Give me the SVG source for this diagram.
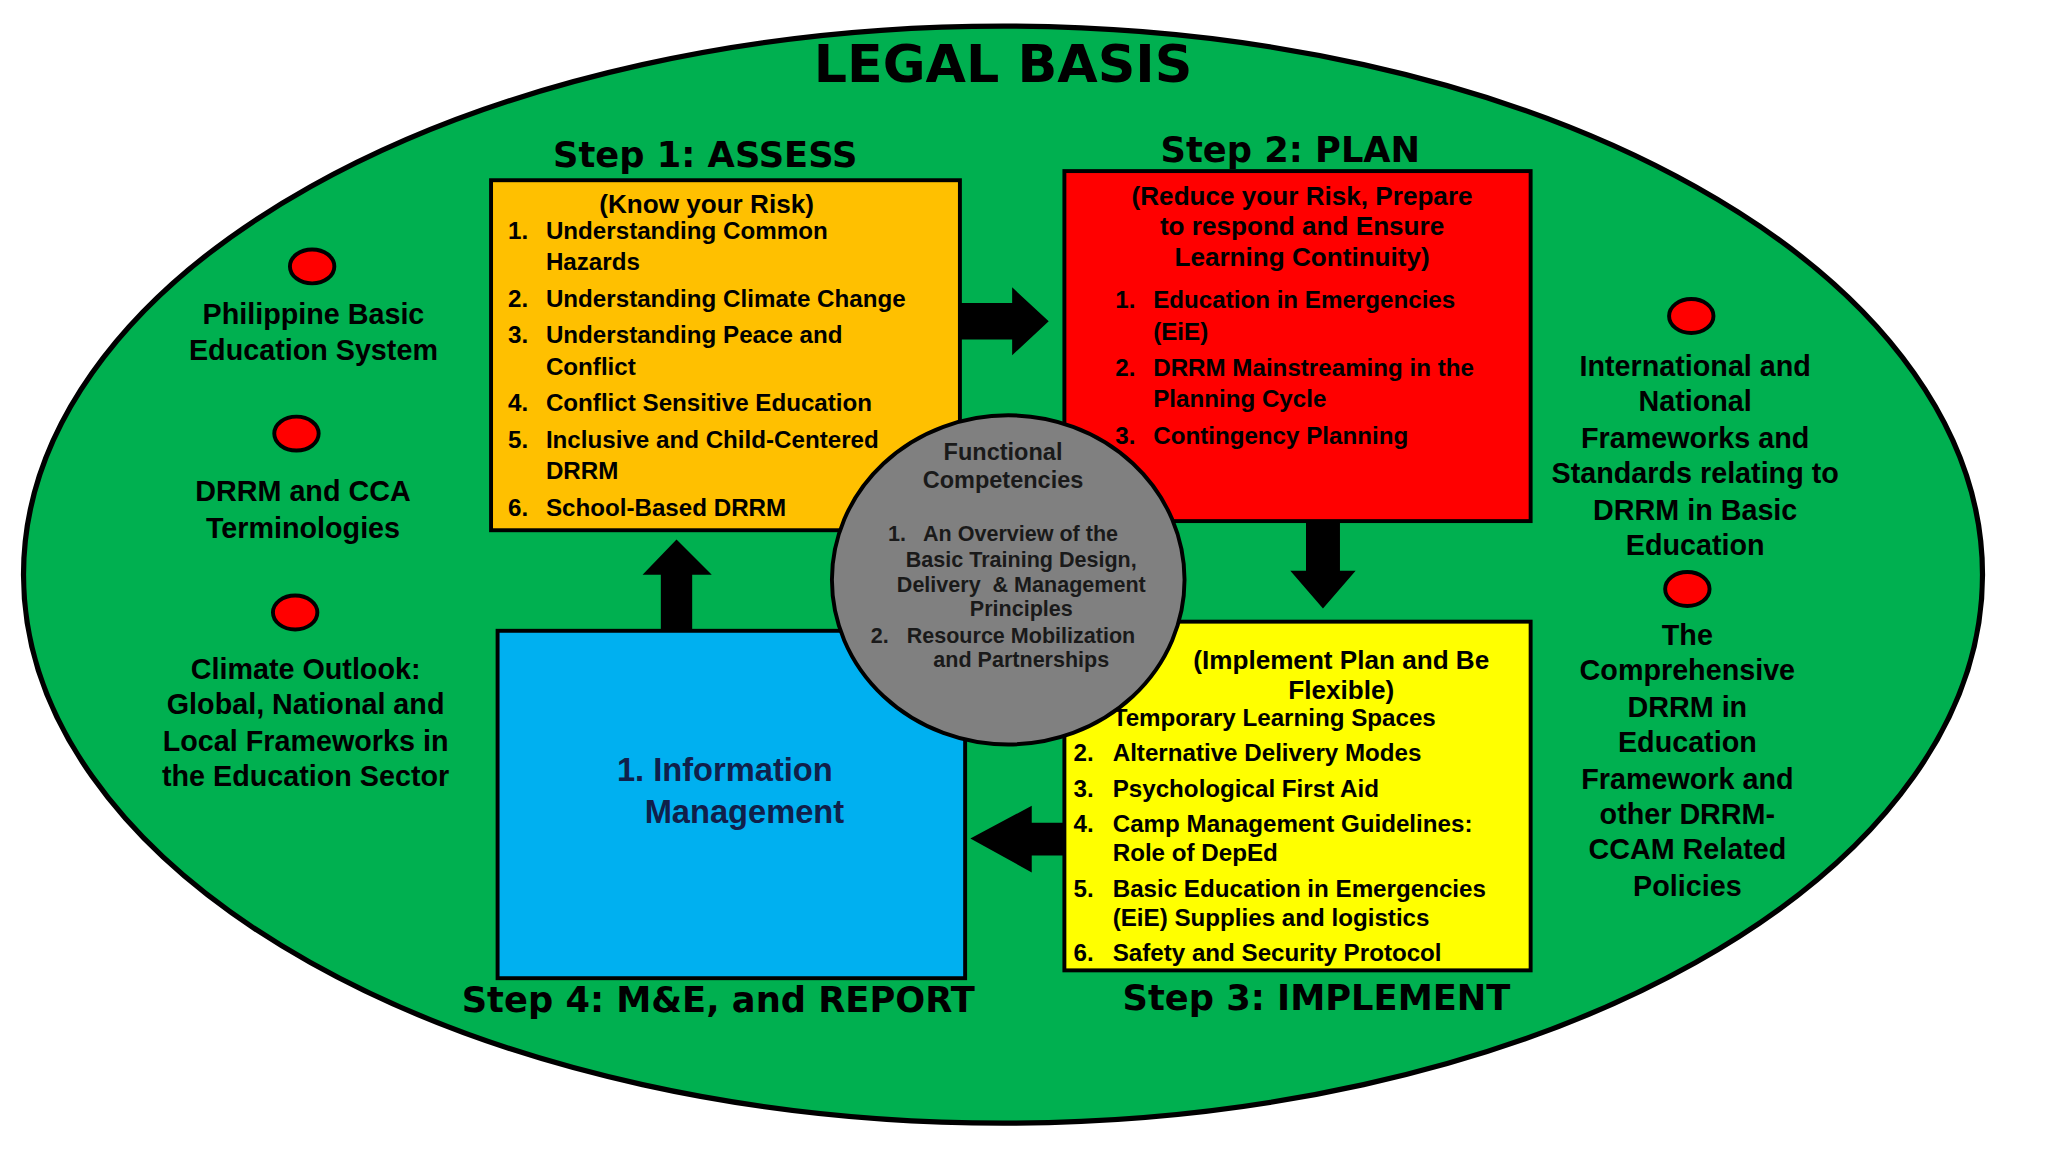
<svg xmlns="http://www.w3.org/2000/svg" width="2048" height="1152" viewBox="0 0 2048 1152">
<style>
text{font-family:"Liberation Sans",Arial,sans-serif;font-weight:bold;fill:#000}
.t{font-size:40px;font-family:"DejaVu Sans",sans-serif}
.s{font-size:27px;text-anchor:middle;font-family:"DejaVu Sans",sans-serif}
.h{font-size:20px;text-anchor:middle}
.i{font-size:18.5px}
.side{font-size:22px;text-anchor:middle}
.c{font-size:16.5px;text-anchor:middle;fill:#1a1a1a;white-space:pre}
.box{stroke:#000;stroke-width:3}
.dot{fill:#f00;stroke:#000;stroke-width:3}
</style>
<rect width="2048" height="1152" fill="#fff"/>
<g transform="scale(1.306)">
<g id="legal"><ellipse cx="768" cy="440" rx="750" ry="420" fill="#00B050" stroke="#000" stroke-width="4"/>
<text class="t" x="768" y="63" text-anchor="middle">LEGAL BASIS</text></g>
<g id="connectors" fill="#000">
<polygon points="735,232 775,232 775,220 803,246 775,272 775,260 735,260"/>
<polygon points="1000,397 1026,397 1026,437 1038,437 1013,466 988,437 1000,437"/>
<polygon points="815,630 790,630 790,617 743,642 790,668 790,655 815,655"/>
<polygon points="506,483 530,483 530,440 545,440 518,413 492,440 506,440"/>
</g>
<g id="step1">
<text class="s" x="540" y="128">Step 1: ASSESS</text>
<rect class="box" x="376" y="138" width="359" height="268" fill="#FFC000"/>
<text class="h" x="541" y="163">(Know your Risk)</text>
<g class="i"><text x="389" y="183">1.</text><text x="418" y="183">Understanding Common</text><text x="418" y="207">Hazards</text>
<text x="389" y="235">2.</text><text x="418" y="235">Understanding Climate Change</text>
<text x="389" y="263">3.</text><text x="418" y="263">Understanding Peace and</text><text x="418" y="287">Conflict</text>
<text x="389" y="315">4.</text><text x="418" y="315">Conflict Sensitive Education</text>
<text x="389" y="343">5.</text><text x="418" y="343">Inclusive and Child-Centered</text><text x="418" y="367">DRRM</text>
<text x="389" y="395">6.</text><text x="418" y="395">School-Based DRRM</text></g>
</g>
<g id="step2">
<text class="s" x="988" y="124">Step 2: PLAN</text>
<rect class="box" x="815" y="131" width="357" height="268" fill="#FF0000"/>
<text class="h" x="997" y="157">(Reduce your Risk, Prepare</text>
<text class="h" x="997" y="180">to respond and Ensure</text>
<text class="h" x="997" y="204">Learning Continuity)</text>
<g class="i"><text x="854" y="236">1.</text><text x="883" y="236">Education in Emergencies</text><text x="883" y="260">(EiE)</text>
<text x="854" y="288">2.</text><text x="883" y="288">DRRM Mainstreaming in the</text><text x="883" y="312">Planning Cycle</text>
<text x="854" y="340">3.</text><text x="883" y="340">Contingency Planning</text></g>
</g>
<g id="step3">
<text class="s" x="1008" y="773">Step 3: IMPLEMENT</text>
<rect class="box" x="815" y="476" width="357" height="267" fill="#FFFF00"/>
<text class="h" x="1027" y="512">(Implement Plan and Be</text>
<text class="h" x="1027" y="535">Flexible)</text>
<g class="i"><text x="822" y="556">1.</text><text x="852" y="556">Temporary Learning Spaces</text>
<text x="822" y="583">2.</text><text x="852" y="583">Alternative Delivery Modes</text>
<text x="822" y="610">3.</text><text x="852" y="610">Psychological First Aid</text>
<text x="822" y="637">4.</text><text x="852" y="637">Camp Management Guidelines:</text><text x="852" y="659">Role of DepEd</text>
<text x="822" y="687">5.</text><text x="852" y="687">Basic Education in Emergencies</text><text x="852" y="709">(EiE) Supplies and logistics</text>
<text x="822" y="736">6.</text><text x="852" y="736">Safety and Security Protocol</text></g>
</g>
<g id="step4">
<text class="s" x="550" y="775">Step 4: M&amp;E, and REPORT</text>
<rect class="box" x="381" y="483" width="358" height="266" fill="#00B0F0"/>
<text x="555" y="598" text-anchor="middle" style="font-size:25px;fill:#10204a">1. Information</text>
<text x="570" y="630" text-anchor="middle" style="font-size:25px;fill:#10204a">Management</text>
</g>
<g id="core">
<ellipse cx="772" cy="444" rx="135" ry="126" fill="#808080" stroke="#000" stroke-width="3"/>
<text class="c" x="768" y="352" style="font-size:18px">Functional</text>
<text class="c" x="768" y="374" style="font-size:18px">Competencies</text>
<text class="c" x="768" y="414">1.   An Overview of the</text>
<text class="c" x="782" y="434">Basic Training Design,</text>
<text class="c" x="782" y="453">Delivery  &amp; Management</text>
<text class="c" x="782" y="472">Principles</text>
<text class="c" x="768" y="492">2.   Resource Mobilization</text>
<text class="c" x="782" y="511">and Partnerships</text>
</g>
<g id="left1"><ellipse class="dot" cx="239" cy="204" rx="17" ry="13"/><text class="side" x="240" y="248">Philippine Basic</text><text class="side" x="240" y="276">Education System</text></g>
<g id="left2"><ellipse class="dot" cx="227" cy="332" rx="17" ry="13"/><text class="side" x="232" y="384">DRRM and CCA</text><text class="side" x="232" y="412">Terminologies</text></g>
<g id="left3"><ellipse class="dot" cx="226" cy="469" rx="17" ry="13"/><text class="side" x="234" y="520">Climate Outlook:</text><text class="side" x="234" y="547">Global, National and</text><text class="side" x="234" y="575">Local Frameworks in</text><text class="side" x="234" y="602">the Education Sector</text></g>
<g id="right1"><ellipse class="dot" cx="1295" cy="242" rx="17" ry="13"/>
<text class="side" x="1298" y="288">International and</text><text class="side" x="1298" y="315">National</text><text class="side" x="1298" y="343">Frameworks and</text><text class="side" x="1298" y="370">Standards relating to</text><text class="side" x="1298" y="398">DRRM in Basic</text><text class="side" x="1298" y="425">Education</text></g>
<g id="right2"><ellipse class="dot" cx="1292" cy="451" rx="17" ry="13"/>
<text class="side" x="1292" y="494">The</text><text class="side" x="1292" y="521">Comprehensive</text><text class="side" x="1292" y="549">DRRM in</text><text class="side" x="1292" y="576">Education</text><text class="side" x="1292" y="604">Framework and</text><text class="side" x="1292" y="631">other DRRM-</text><text class="side" x="1292" y="658">CCAM Related</text><text class="side" x="1292" y="686">Policies</text></g>
</g>
</svg>
